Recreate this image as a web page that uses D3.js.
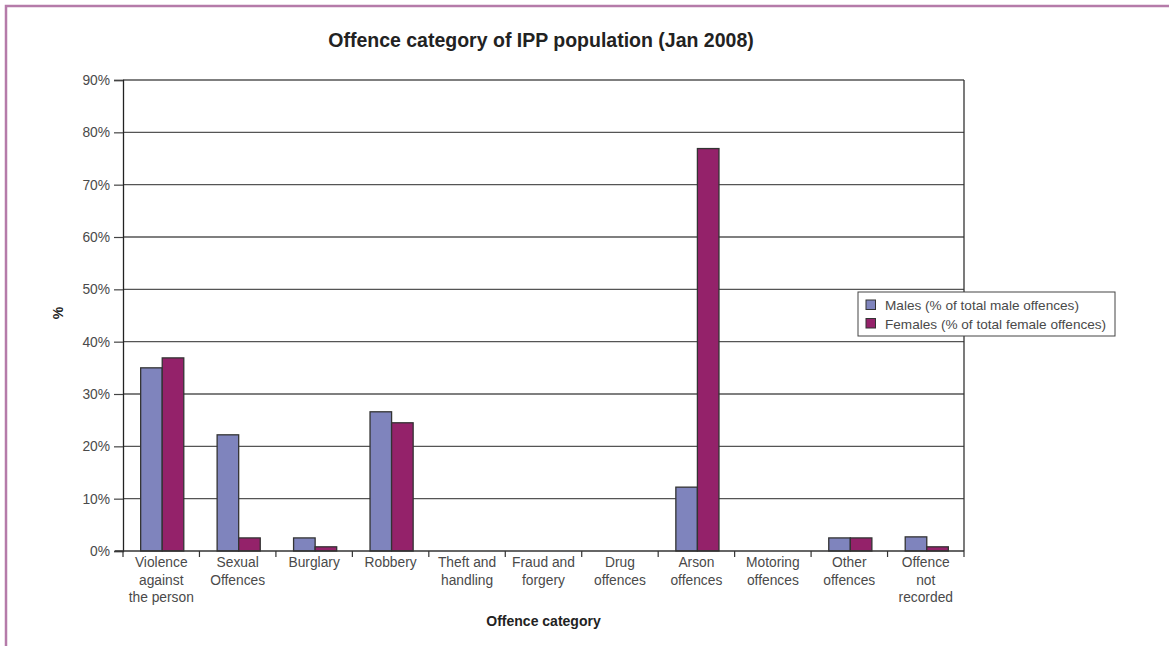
<!DOCTYPE html>
<html>
<head>
<meta charset="utf-8">
<script src="https://cdn.jsdelivr.net/npm/d3@7"></script>
<style>
  html, body { margin: 0; padding: 0; background: #fff; }
  svg { display: block; }
  text { font-family: "Liberation Sans", Arial, sans-serif; }
</style>
</head>
<body>
<svg id="chart" width="1169" height="646"></svg>
<script>
// Offence categories (line breaks mark wrapped axis labels)
const categories = [
  "Violence\nagainst\nthe person",
  "Sexual\nOffences",
  "Burglary",
  "Robbery",
  "Theft and\nhandling",
  "Fraud and\nforgery",
  "Drug\noffences",
  "Arson\noffences",
  "Motoring\noffences",
  "Other\noffences",
  "Offence\nnot\nrecorded"
];

// Share of offences, per cent
const malesPct   = [35.0, 22.2, 2.5, 26.6, 0, 0, 0, 12.2, 0, 2.5, 2.7];
const femalesPct = [36.9, 2.5, 0.8, 24.5, 0, 0, 0, 76.9, 0, 2.5, 0.8];

const seriesNames = [
  "Males (% of total male offences)",
  "Females (% of total female offences)"
];
const seriesColors = ["#7f84bd", "#94226a"];

const yTicks = [0, 10, 20, 30, 40, 50, 60, 70, 80, 90];

const svg = d3.select("#chart");
const W = 1169, H = 646;

// Frame: purple rule along the top and left edge
svg.append("path")
  .attr("d", `M6,${H} V6 H${W}`)
  .attr("fill", "none")
  .attr("stroke", "#b57ba9")
  .attr("stroke-width", 2.5);

const plot = { left: 123, right: 964, top: 80, bottom: 551 };

const x = d3.scaleBand()
  .domain(categories)
  .range([plot.left, plot.right])
  .padding(0);

const y = d3.scaleLinear()
  .domain([0, 90])
  .range([plot.bottom, plot.top]);

const barW = x.bandwidth() * 0.282;
const x1 = d3.scaleBand()
  .domain([0, 1])
  .range([(x.bandwidth() - 2 * barW) / 2 + 1, (x.bandwidth() - 2 * barW) / 2 + 1 + 2 * barW]);

// Horizontal gridlines
svg.append("g")
  .selectAll("line")
  .data(yTicks.filter(d => d > 0))
  .join("line")
  .attr("x1", plot.left)
  .attr("x2", plot.right)
  .attr("y1", d => y(d))
  .attr("y2", d => y(d))
  .attr("stroke", "#555")
  .attr("stroke-width", 1.4);

// Right edge of the plot area
svg.append("line")
  .attr("x1", plot.right).attr("x2", plot.right)
  .attr("y1", plot.top).attr("y2", plot.bottom)
  .attr("stroke", "#333").attr("stroke-width", 1.3);

// Bars
const rows = categories.map((c, i) => ({ cat: c, vals: [malesPct[i], femalesPct[i]] }));
const groups = svg.append("g")
  .selectAll("g")
  .data(rows)
  .join("g")
  .attr("transform", d => `translate(${x(d.cat)},0)`);

groups.selectAll("rect")
  .data(d => d.vals.map((v, s) => ({ v, s })).filter(e => e.v > 0))
  .join("rect")
  .attr("x", d => x1(d.s))
  .attr("width", x1.bandwidth())
  .attr("y", d => y(d.v))
  .attr("height", d => y(0) - y(d.v))
  .attr("fill", d => seriesColors[d.s])
  .attr("stroke", "#333")
  .attr("stroke-width", 1.3);

// Y axis
const yAxis = d3.axisLeft(y)
  .tickValues(yTicks)
  .tickFormat(d => d + "%")
  .tickSize(9)
  .tickPadding(4);

const gy = svg.append("g")
  .attr("transform", `translate(${plot.left},0)`)
  .call(yAxis);
gy.select(".domain").attr("stroke", "#222").attr("stroke-width", 1.3);
gy.selectAll(".tick line").attr("stroke", "#444").attr("stroke-width", 1.2);
gy.selectAll(".tick text")
  .attr("fill", "#4a4a4a")
  .style("font-size", "13.8px");

// X axis with ticks at category boundaries
const gx = svg.append("g");
gx.append("line")
  .attr("x1", plot.left - 8).attr("x2", plot.right)
  .attr("y1", plot.bottom).attr("y2", plot.bottom)
  .attr("stroke", "#333").attr("stroke-width", 1.3);

const boundaries = categories.map(c => x(c)).concat([plot.right]);
gx.selectAll("line.tk")
  .data(boundaries)
  .join("line")
  .attr("class", "tk")
  .attr("x1", d => d).attr("x2", d => d)
  .attr("y1", plot.bottom).attr("y2", plot.bottom + 6)
  .attr("stroke", "#333").attr("stroke-width", 1.2);

const labels = gx.selectAll("text.cat")
  .data(categories)
  .join("text")
  .attr("class", "cat")
  .attr("x", d => x(d) + x.bandwidth() / 2)
  .attr("y", plot.bottom + 16)
  .attr("text-anchor", "middle")
  .attr("fill", "#4a4a4a")
  .style("font-size", "13.8px");

labels.selectAll("tspan")
  .data(d => d.split("\n"))
  .join("tspan")
  .attr("x", function () { return d3.select(this.parentNode).attr("x"); })
  .attr("dy", (d, i) => i === 0 ? 0 : 17.5)
  .text(d => d);

// Axis titles
svg.append("text")
  .attr("x", (plot.left + plot.right) / 2)
  .attr("y", 626)
  .attr("text-anchor", "middle")
  .attr("fill", "#222")
  .style("font-size", "14px")
  .style("font-weight", "bold")
  .text("Offence category");

svg.append("text")
  .attr("transform", `translate(63,313) rotate(-90)`)
  .attr("text-anchor", "middle")
  .attr("fill", "#222")
  .style("font-size", "14px")
  .style("font-weight", "bold")
  .text("%");

// Title
svg.append("text")
  .attr("x", 541)
  .attr("y", 47)
  .attr("text-anchor", "middle")
  .attr("fill", "#222")
  .style("font-size", "19.5px")
  .style("font-weight", "bold")
  .text("Offence category of IPP population (Jan 2008)");

// Legend
const legend = svg.append("g").attr("transform", "translate(858,292)");
legend.append("rect")
  .attr("width", 257).attr("height", 44)
  .attr("fill", "#fff")
  .attr("stroke", "#444").attr("stroke-width", 1);

const items = legend.selectAll("g.item")
  .data(seriesNames)
  .join("g")
  .attr("class", "item")
  .attr("transform", (d, i) => `translate(8,${13 + i * 18.5})`);

items.append("rect")
  .attr("x", 0).attr("y", -5)
  .attr("width", 9.5).attr("height", 9.5)
  .attr("fill", (d, i) => seriesColors[i])
  .attr("stroke", "#333").attr("stroke-width", 1);

items.append("text")
  .attr("x", 19).attr("y", 5)
  .attr("fill", "#4a4a4a")
  .style("font-size", "13.6px")
  .text(d => d);
</script>
</body>
</html>
